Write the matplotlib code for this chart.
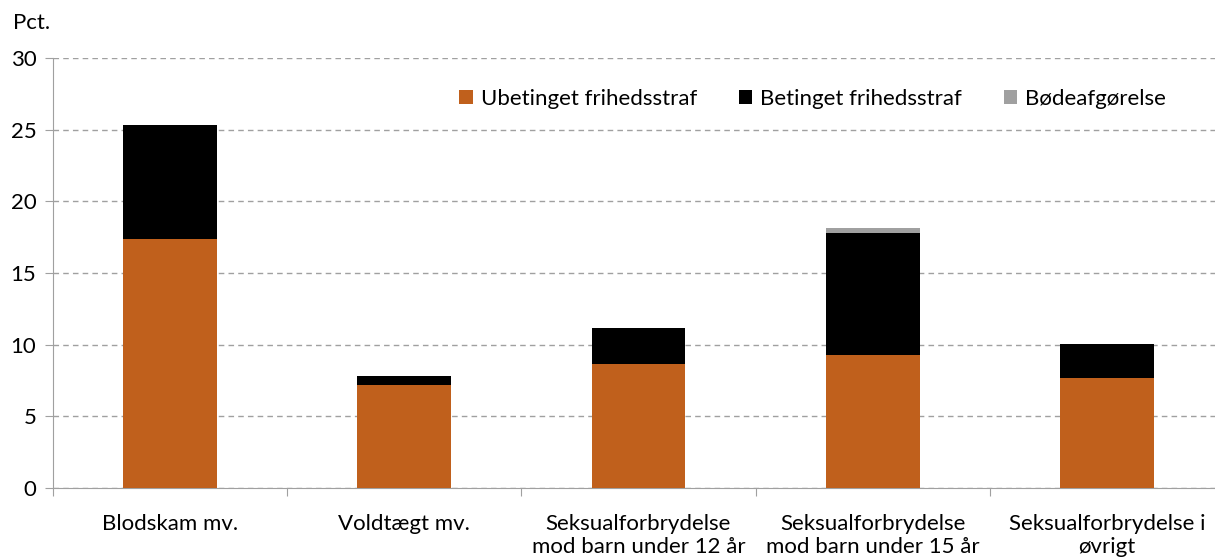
import numpy as np
import matplotlib
matplotlib.use('Agg')
import matplotlib.pyplot as plt
from matplotlib.patches import Patch

plt.rcParams['font.family'] = ['Lato', 'DejaVu Sans']

categories = ['Blodskam mv.', 'Voldtægt mv.',
              'Seksualforbrydelse\nmod barn under 12 år',
              'Seksualforbrydelse\nmod barn under 15 år',
              'Seksualforbrydelse i\nøvrigt']
ubetinget = [17.35, 7.2, 8.65, 9.25, 7.7]
betinget = [7.95, 0.63, 2.5, 8.55, 2.37]
boede = [0.0, 0.0, 0.0, 0.32, 0.0]
series_names = ['Ubetinget frihedsstraf', 'Betinget frihedsstraf', 'Bødeafgørelse']
colors = ['#C0601C', '#000000', '#A0A0A0']

fig = plt.figure(figsize=(12.15, 5.58), dpi=100)
ax = fig.add_axes([0.0436, 0.1254, 0.9638, 0.7706])

x = np.arange(len(categories))
w = 0.40
bottom = np.zeros(len(categories))
for vals, col in zip([ubetinget, betinget, boede], colors):
    vals = np.array(vals)
    ax.bar(x, vals, w, bottom=bottom, color=col, zorder=3)
    bottom += vals

ax.set_xlim(-0.5, len(categories) - 0.5)
ax.set_ylim(0, 30)
ax.set_yticks(range(0, 31, 5))
ax.yaxis.grid(True, linestyle=(0, (4, 3)), color='#A0A0A0', linewidth=1)
ax.set_axisbelow(True)

# category boundaries get the ticks, labels sit on minor ticks at bar centres
ax.set_xticks(np.arange(-0.5, len(categories), 1.0))
ax.set_xticklabels([])
ax.set_xticks(x, minor=True)
ax.set_xticklabels(categories, minor=True, fontsize=16)
ax.tick_params(axis='x', which='minor', length=0, pad=19)
ax.tick_params(axis='x', which='major', length=6, color='#A0A0A0')
ax.tick_params(axis='y', length=6, color='#A0A0A0', labelsize=16, pad=6)
for lbl in ax.get_xticklabels(minor=True):
    lbl.set_linespacing(1.15)

for s in ['top', 'right']:
    ax.spines[s].set_visible(False)
for s in ['left', 'bottom']:
    ax.spines[s].set_color('#A0A0A0')

fig.text(0.011, 0.958, 'Pct.', fontsize=16, va='center')

handles = [Patch(facecolor=c, edgecolor='none') for c in colors]
ax.legend(handles, series_names, ncol=3, frameon=False, loc='upper left',
          bbox_to_anchor=(0.33, 0.975), fontsize=16, handlelength=0.6,
          handleheight=0.6, handletextpad=0.35, columnspacing=1.9)

fig.savefig('out.png', dpi=100)
